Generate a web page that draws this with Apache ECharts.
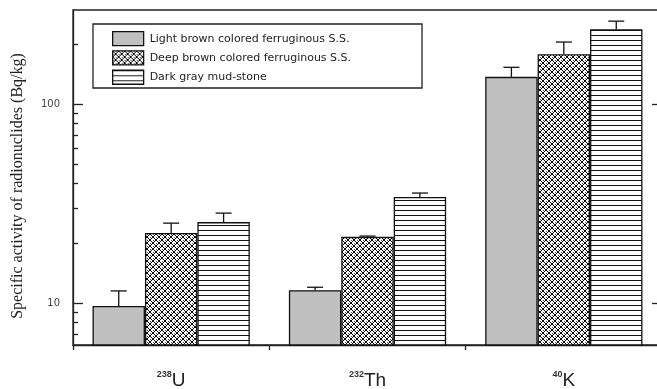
<!DOCTYPE html>
<html><head><meta charset="utf-8">
<script src="https://cdn.jsdelivr.net/npm/echarts@6/dist/echarts.min.js"></script>
<style>html,body{margin:0;padding:0;background:#fff}#c{width:657px;height:389px}</style>
</head><body><div id="c"></div>
<script>
// ---- data ----
var elements = ['U', 'Th', 'K'];
var massNumbers = ['238', '232', '40'];
var seriesNames = ['Light brown colored ferruginous S.S.', 'Deep brown colored ferruginous S.S.', 'Dark gray mud-stone'];
var lightValues = [9.66, 11.6, 137];
var deepValues  = [22.5, 21.5, 178];
var darkValues  = [25.5, 34.1, 238];
var lightErrTop = [11.5, 12.0, 153];
var deepErrTop  = [25.2, 21.7, 205];
var darkErrTop  = [28.3, 35.7, 261];
var majorTicks = [10, 100];
var minorTicks = [7, 8, 9, 20, 30, 40, 50, 60, 70, 80, 90, 200];
var yTitle = 'Specific activity of radionuclides (Bq/kg)';

// ---- patterns (style only) ----
function makeCross() {
  var c = document.createElement('canvas'); c.width = 6; c.height = 6;
  var g = c.getContext('2d');
  g.fillStyle = '#fff'; g.fillRect(0, 0, 6, 6);
  g.fillStyle = '#000';
  var px = [[0,0],[1,1],[2,2],[3,3],[4,4],[5,5],[5,0],[4,1],[3,2],[2,3],[1,4],[0,5]];
  px.forEach(function (p) { g.fillRect(p[0], p[1], 1, 1); });
  g.fillStyle = '#555';
  g.fillRect(3, 0, 1, 1); g.fillRect(0, 3, 1, 1);
  return c;
}
function makeLines() {
  var c = document.createElement('canvas'); c.width = 4; c.height = 5;
  var g = c.getContext('2d');
  g.fillStyle = '#fff'; g.fillRect(0, 0, 4, 5);
  g.fillStyle = '#111'; g.fillRect(0, 0, 4, 1);
  return c;
}
var fills = ['#c0c0c0', { image: makeCross(), repeat: 'repeat' }, { image: makeLines(), repeat: 'repeat' }];
var values = [lightValues, deepValues, darkValues];
var errTops = [lightErrTop, deepErrTop, darkErrTop];

var BAR_FRAC = 0.267;
var series = [];
values.forEach(function (vals, s) {
  series.push({
    name: seriesNames[s], type: 'bar', data: vals,
    barWidth: (BAR_FRAC * 100) + '%', barGap: '0%',
    itemStyle: { color: fills[s], borderColor: '#111', borderWidth: 1.3 },
    emphasis: { disabled: true }
  });
});
values.forEach(function (vals, s) {
  var d = vals.map(function (v, i) { return [i, v, errTops[s][i]]; });
  series.push({
    name: 'err' + s, type: 'custom', data: d, z: 5,
    renderItem: function (params, api) {
      var i = api.value(0);
      var base = api.coord([i, api.value(1)]);
      var top = api.coord([i, api.value(2)]);
      var bw = api.size([1, 0])[0] * BAR_FRAC;
      var x = base[0] + (s - 1) * bw;
      return { type: 'group', children: [
        { type: 'line', shape: { x1: x, y1: base[1], x2: x, y2: top[1] }, style: { stroke: '#111', lineWidth: 1.3 } },
        { type: 'line', shape: { x1: x - 8, y1: top[1], x2: x + 8, y2: top[1] }, style: { stroke: '#111', lineWidth: 1.3 } }
      ] };
    }
  });
});

var yMin = 6.15, yMax = 297;
var chart = echarts.init(document.getElementById('c'));
chart.setOption({
  animation: false,
  grid: { left: 73, top: 10, width: 589, height: 335, show: true, borderColor: '#222', borderWidth: 1.3, containLabel: false, outerBoundsMode: 'none' },
  graphic: [
    { type: 'rect', shape: { x: 93, y: 24, width: 329, height: 64 }, style: { fill: 'none', stroke: '#222', lineWidth: 1.3 }, z: 10 },
    { type: 'text', x: 18, y: 186, rotation: Math.PI / 2, style: { text: yTitle, fontFamily: 'Liberation Serif', fontSize: 16, fill: '#222', align: 'center', verticalAlign: 'middle' }, z: 10 }
  ],
  legend: {
    data: seriesNames, orient: 'vertical', left: 107, top: 26, itemWidth: 31, itemHeight: 14, itemGap: 4,
    icon: 'rect', selectedMode: false,
    textStyle: { fontFamily: 'DejaVu Sans', fontSize: 11, color: '#222', padding: [0, 0, 0, 1] },
    itemStyle: { borderColor: '#111', borderWidth: 1.3 }
  },
  xAxis: {
    type: 'category', data: elements,
    axisLine: { lineStyle: { color: '#222', width: 1.3 } },
    axisTick: { show: true, alignWithLabel: false, length: 5, lineStyle: { color: '#222', width: 1.3 } },
    axisLabel: {
      margin: 25,
      formatter: function (v, idx) { return '{sup|' + massNumbers[idx] + '}{el|' + v + '}'; },
      rich: {
        sup: { fontFamily: 'Liberation Sans', fontSize: 9, fontWeight: 'bold', color: '#333', verticalAlign: 'top', lineHeight: 10 },
        el: { fontFamily: 'Liberation Sans', fontSize: 19, color: '#222', lineHeight: 20, verticalAlign: 'bottom' }
      }
    }
  },
  yAxis: [
    {
      type: 'log', min: yMin, max: yMax, position: 'left',
      axisLine: { show: true, lineStyle: { color: '#222', width: 1.3 } },
      axisTick: { show: true, inside: true, length: 10, customValues: majorTicks, lineStyle: { color: '#222', width: 1.3 } },
      axisLabel: { show: true, customValues: majorTicks, margin: 13, fontFamily: 'DejaVu Sans', fontSize: 10, color: '#444' },
      splitLine: { show: false }
    },
    {
      type: 'log', min: yMin, max: yMax, position: 'left',
      axisLine: { show: false },
      axisTick: { show: true, inside: true, length: 5, customValues: minorTicks, lineStyle: { color: '#222', width: 1.3 } },
      axisLabel: { show: false }, splitLine: { show: false }
    },
    {
      type: 'log', min: yMin, max: yMax, position: 'right',
      axisLine: { show: true, lineStyle: { color: '#222', width: 1.3 } },
      axisTick: { show: true, inside: true, length: 10, customValues: majorTicks, lineStyle: { color: '#222', width: 1.3 } },
      axisLabel: { show: false }, splitLine: { show: false }
    }
  ],
  series: series
});
</script></body></html>
